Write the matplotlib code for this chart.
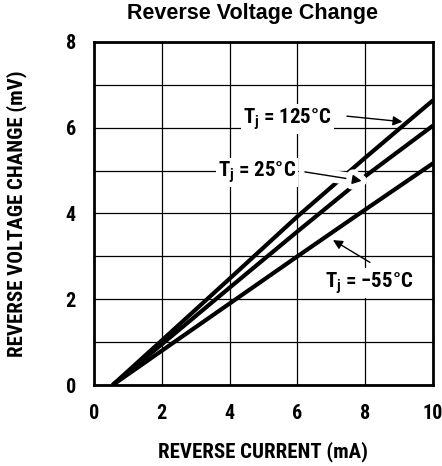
# Reverse voltage change vs reverse current

# Libraries
import matplotlib
matplotlib.use("Agg")
import matplotlib.pyplot as plt
import matplotlib.patheffects as pe


# Data
current = [0.55, 2, 4, 6, 8, 10]
dv_125 = [0, 1.04, 2.48, 3.93, 5.3, 6.64]
dv_25 = [0, 0.95, 2.27, 3.58, 4.87, 6.05]
dv_m55 = [0, 0.8, 1.9, 3.0, 4.09, 5.17]

x_ticks = [0, 2, 4, 6, 8, 10]
y_ticks = [0, 2, 4, 6, 8]

labels = ["T$_j$ = 125°C", "T$_j$ = 25°C", "T$_j$ = \u221255°C"]


# RC Params
narrow = ["Roboto Condensed", "DejaVu Sans"]
plt.rcParams["font.family"] = narrow
plt.rcParams["font.weight"] = "bold"
plt.rcParams["mathtext.default"] = "regular"
plt.rcParams["xtick.major.size"] = 0
plt.rcParams["ytick.major.size"] = 0


# Figure
fig = plt.figure(figsize=[4.42, 4.66], dpi=100)
ax = fig.add_axes([0.2127, 0.1738, 0.7669, 0.7361])

for dv in (dv_125, dv_25, dv_m55):
    ax.plot(current, dv, color="black", lw=3.0, solid_capstyle="butt", zorder=3)

ax.set_xlim(0, 10)
ax.set_ylim(0, 8)
ax.set_xticks(x_ticks)
ax.set_yticks(y_ticks)
ax.set_yticks(range(0, 9), minor=True)
ax.tick_params(which="both", length=0, labelsize=14.5)
ax.tick_params(axis="x", pad=14)
ax.tick_params(axis="y", pad=13)
ax.grid(True, which="both", color="black", lw=0.9, zorder=1)
for s in ax.spines.values():
    s.set_linewidth(2)

ax.set_xlabel("REVERSE CURRENT (mA)", fontsize=15, fontweight="bold", labelpad=13)
ax.set_ylabel("REVERSE VOLTAGE CHANGE (mV)", fontsize=15, fontweight="bold", labelpad=28)
fig.suptitle("Reverse Voltage Change", fontsize=15.5, fontweight="bold",
             family="Liberation Sans", x=0.571, y=0.993)

# Curve labels
box = dict(fc="white", ec="none", pad=1.5)
ax.text(4.4, 6.1, labels[0], fontsize=15, va="baseline", ha="left", bbox=box, zorder=5)
ax.text(3.66, 4.85, labels[1], fontsize=15, va="baseline", ha="left", bbox=box, zorder=5)
ax.text(6.81, 2.28, labels[2], fontsize=15, va="baseline", ha="left", bbox=box, zorder=5)

# Arrows
arrow = dict(arrowstyle="-|>", color="black", lw=1.0, shrinkA=0, shrinkB=0,
             mutation_scale=14)
white = [pe.withStroke(linewidth=9, foreground="white")]
ax.annotate("", xy=(9.1, 6.14), xytext=(7.46, 6.27), arrowprops=arrow, zorder=5)
ax.annotate("", xy=(7.9, 4.76), xytext=(6.22, 4.97),
            arrowprops=dict(arrow, path_effects=white), zorder=5)
ax.annotate("", xy=(7.05, 3.38), xytext=(8.14, 2.86), arrowprops=arrow, zorder=5)

plt.savefig("out.png", dpi=100)
